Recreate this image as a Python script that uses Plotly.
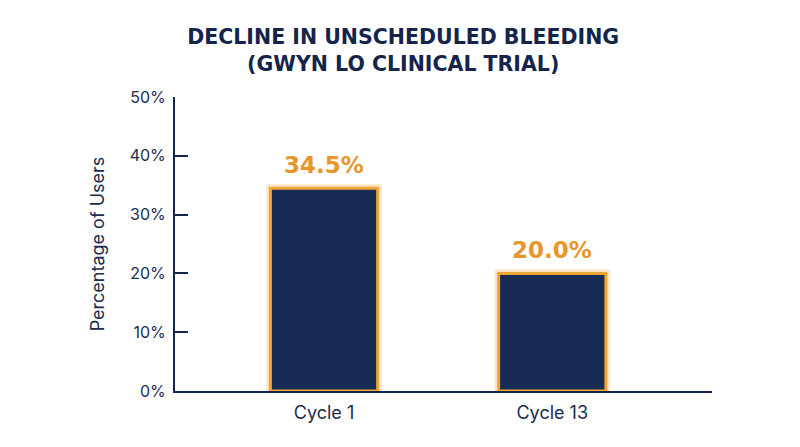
import plotly.graph_objects as go

# Data
cycles = ['Cycle 1', 'Cycle 13']
pct_users = [34.5, 20.0]
labels = [f"{v:.1f}%" for v in pct_users]
y_ticks = [0, 10, 20, 30, 40, 50]
y_tick_text = [f"{t}%" for t in y_ticks]

navy = '#172a54'
orange = '#e8952c'

fig = go.Figure()

# soft glow behind the bars
fig.add_trace(go.Bar(
    x=cycles, y=pct_users, width=0.47,
    marker=dict(color='rgba(0,0,0,0)', line=dict(color='rgba(245,170,70,0.3)', width=8)),
    hoverinfo='skip', showlegend=False,
))

fig.add_trace(go.Bar(
    x=cycles, y=pct_users, width=0.47,
    marker=dict(color=navy, line=dict(color='#f0a436', width=3)),
    showlegend=False,
))

# value labels above the bars
for cyc, val, lab in zip(cycles, pct_users, labels):
    fig.add_annotation(
        x=cyc, y=val, text=lab, showarrow=False,
        yanchor='bottom', yshift=8,
        font=dict(family='DejaVu Sans', size=23, color=orange, weight='bold'),
    )

# page body has an 8px margin, so size and margins are trimmed by 8
fig.update_layout(
    barmode='overlay',
    width=792, height=439,
    margin=dict(l=167, r=88, t=89, b=56),
    paper_bgcolor='white', plot_bgcolor='white',
    title=dict(
        text='DECLINE IN UNSCHEDULED BLEEDING<br>(GWYN LO CLINICAL TRIAL)',
        x=0.499, xanchor='center', y=0.918, yanchor='top',
        font=dict(family='DejaVu Sans', size=20.5, color='#14244a', weight='bold'),
    ),
    font=dict(family='Inter', color='#1c2c4c'),
)

fig.update_xaxes(
    range=[-0.653, 1.70],
    showline=True, linecolor='#14244a', linewidth=2,
    ticks='', showgrid=False, ticklabelstandoff=4,
    tickfont=dict(size=18, color='#1c2c4c'),
)

fig.update_yaxes(
    range=[0, 50], tickvals=y_ticks, ticktext=y_tick_text,
    showline=True, linecolor='#14244a', linewidth=2,
    ticks='inside', ticklen=13, tickwidth=2, tickcolor='#14244a',
    showgrid=False, zeroline=False, ticklabelstandoff=4,
    tickfont=dict(size=16, color='#1c2c4c'),
    title=dict(text='Percentage of Users', font=dict(size=18, color='#1c2c4c'), standoff=20),
)

fig.write_html("out.html")
